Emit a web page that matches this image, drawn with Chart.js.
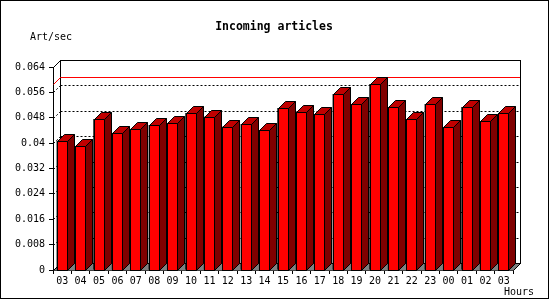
<!DOCTYPE html>
<html>
<head>
<meta charset="utf-8">
<script src="https://cdn.jsdelivr.net/npm/chart.js@4.4.1/dist/chart.umd.min.js"></script>
<style>
  html, body { margin: 0; padding: 0; background: #fff; }
  #wrap { width: 550px; height: 300px; }
</style>
</head>
<body>
<div id="wrap"><canvas id="c" width="550" height="300"></canvas></div>
<script>
// ---- data ----
const categories = ['03','04','05','06','07','08','09','10','11','12','13','14','15','16','17','18','19','20','21','22','23','00','01','02','03'];
const articlesPerSec = [0.0407,0.0390,0.0475,0.0432,0.0444,0.0456,0.0462,0.0494,0.0483,0.0451,0.0459,0.0440,0.0510,0.0497,0.0491,0.0554,0.0522,0.0585,0.0513,0.0475,0.0522,0.0450,0.0513,0.0469,0.0494];
const yTickLabels = ['0','0.008','0.016','0.024','0.032','0.04','0.048','0.056','0.064'];
const titleText = 'Incoming articles';
const yAxisTitle = 'Art/sec';
const xAxisTitle = 'Hours';

const DEPTH = 7;
const MONO = '"DejaVu Sans Mono", "Liberation Mono", monospace';

const threeD = {
  id: 'threeD',
  beforeDraw(chart) {
    const ctx = chart.ctx;
    ctx.save();
    ctx.fillStyle = '#fff';
    ctx.fillRect(0, 0, chart.width, chart.height);
    ctx.restore();
  },
  beforeDatasetsDraw(chart) {
    const { ctx, chartArea: ca, scales } = chart;
    const ys = scales.y;
    const D = DEPTH;
    const L = Math.round(ca.left) + 0.5, R = Math.round(ca.right) + 0.5;
    const T = Math.round(ca.top) + 0.5, B = Math.round(ca.bottom) + 0.5;
    ctx.save();
    ctx.lineWidth = 1;
    // floor
    ctx.fillStyle = '#808080';
    ctx.beginPath();
    ctx.moveTo(L, B); ctx.lineTo(R, B); ctx.lineTo(R + D, B - D); ctx.lineTo(L + D, B - D);
    ctx.closePath(); ctx.fill();
    // back wall
    ctx.strokeStyle = '#000';
    ctx.strokeRect(L + D, T - D, R - L, B - T);
    // dotted grid on back wall + left diagonals
    ctx.setLineDash([2, 2]);
    ys.ticks.forEach(t => {
      if (t.value <= 0 || t.value >= ys.max) return;
      const py = Math.round(ys.getPixelForValue(t.value)) + 0.5;
      ctx.beginPath();
      ctx.moveTo(L + D, py - D); ctx.lineTo(R + D, py - D);
      ctx.stroke();
      ctx.beginPath();
      ctx.moveTo(L, py); ctx.lineTo(L + D, py - D);
      ctx.stroke();
    });
    ctx.setLineDash([]);
    // corner diagonals
    ctx.strokeStyle = '#000';
    ctx.beginPath();
    ctx.moveTo(L, T); ctx.lineTo(L + D, T - D);
    ctx.moveTo(L, B); ctx.lineTo(L + D, B - D);
    ctx.moveTo(R, B); ctx.lineTo(R + D, B - D);
    ctx.stroke();
    // max line (red)
    const maxV = Math.max(...articlesPerSec);
    const my = Math.round(ys.getPixelForValue(maxV)) + 0.5;
    ctx.strokeStyle = '#ff0000';
    ctx.lineWidth = 1;
    ctx.beginPath();
    ctx.moveTo(L, my); ctx.lineTo(L + D, my - D); ctx.lineTo(R + D - 0.5, my - D);
    ctx.stroke();
    ctx.restore();
  },
  afterDatasetsDraw(chart) {
    const { ctx } = chart;
    const D = DEPTH;
    const meta = chart.getDatasetMeta(0);
    ctx.save();
    ctx.lineWidth = 1;
    ctx.strokeStyle = '#000';
    ctx.lineJoin = 'miter';
    meta.data.forEach(bar => {
      const p = bar.getProps(['x', 'y', 'base', 'width'], true);
      const xl = Math.round(p.x - p.width / 2) + 0.5;
      const xr = Math.round(p.x + p.width / 2) - 0.5;
      const yt = Math.round(p.y) + 0.5;
      const yb = Math.round(p.base) + 0.5;
      // front face
      ctx.fillStyle = '#ff0000';
      ctx.fillRect(xl, yt, xr - xl, yb - yt);
      ctx.strokeRect(xl, yt, xr - xl, yb - yt);
      // side face
      ctx.fillStyle = '#800000';
      ctx.beginPath();
      ctx.moveTo(xr, yt); ctx.lineTo(xr + D, yt - D); ctx.lineTo(xr + D, yb - D); ctx.lineTo(xr, yb);
      ctx.closePath(); ctx.fill(); ctx.stroke();
      // top face
      ctx.fillStyle = '#c00000';
      ctx.beginPath();
      ctx.moveTo(xl, yt); ctx.lineTo(xl + D, yt - D); ctx.lineTo(xr + D, yt - D); ctx.lineTo(xr, yt);
      ctx.closePath(); ctx.fill(); ctx.stroke();
    });
    ctx.restore();
  },
  afterDraw(chart) {
    const { ctx } = chart;
    ctx.save();
    ctx.fillStyle = '#000';
    ctx.textBaseline = 'middle';
    ctx.font = 'bold 11.5px ' + MONO;
    ctx.textAlign = 'center';
    ctx.fillText(titleText, 274, 27);
    ctx.font = '10px ' + MONO;
    ctx.textAlign = 'left';
    ctx.fillText(yAxisTitle, 30, 37);
    ctx.fillText(xAxisTitle, 504, 292);
    // frame
    ctx.strokeStyle = '#000';
    ctx.lineWidth = 1;
    ctx.strokeRect(0.5, 0.5, 548, 298);
    ctx.restore();
  }
};

new Chart(document.getElementById('c'), {
  type: 'bar',
  data: {
    labels: categories,
    datasets: [{
      label: 'Incoming articles',
      data: articlesPerSec,
      backgroundColor: '#ff0000',
      borderColor: '#000000',
      borderWidth: 1,
      borderSkipped: false,
      barThickness: 11
    }]
  },
  options: {
    responsive: false,
    devicePixelRatio: 1,
    animation: false,
    layout: { padding: { top: 67, right: 37, left: 0, bottom: 0 } },
    plugins: { legend: { display: false }, tooltip: { enabled: false }, title: { display: false } },
    scales: {
      x: {
        offset: true,
        grid: { display: true, offset: true, drawOnChartArea: false, drawTicks: true, tickLength: 4, color: '#000' },
        border: { display: true, color: '#000', width: 1 },
        ticks: { color: '#000', font: { family: MONO, size: 10 }, padding: 1, autoSkip: false, maxRotation: 0, minRotation: 0 },
        afterFit(scale) { scale.height = 30; }
      },
      y: {
        min: 0,
        max: 0.064,
        grid: { display: true, drawOnChartArea: false, drawTicks: true, tickLength: 4, color: '#000' },
        border: { display: true, color: '#000', width: 1 },
        ticks: {
          stepSize: 0.008,
          color: '#000',
          font: { family: MONO, size: 10 },
          padding: 4,
          callback: (v) => yTickLabels[Math.round(v / 0.008)]
        },
        afterFit(scale) { scale.width = 53; }
      }
    }
  },
  plugins: [threeD]
});
</script>
</body>
</html>
